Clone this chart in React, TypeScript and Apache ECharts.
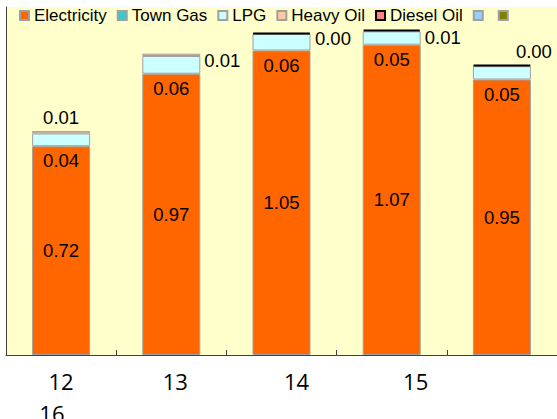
import React, { useEffect, useRef } from "react";
import * as echarts from "echarts";

const categories = ["12", "13", "14", "15", "16"];
const electricity = [0.72, 0.97, 1.05, 1.07, 0.95];
const townGas: (number | null)[] = [null, null, null, null, null];
const lpg = [0.044, 0.061, 0.057, 0.046, 0.046];
const heavyOil: (number | null)[] = [0.008, 0.008, null, null, null];
const dieselOil: (number | null)[] = [null, null, 0.004, 0.006, 0.004];
const extraA: (number | null)[] = [null, null, null, null, null];
const extraB: (number | null)[] = [null, null, null, null, null];

const LABEL_FONT = "Liberation Sans";
const fmt = (p: any) => (p.value == null ? "" : Number(p.value).toFixed(2));

const baseLabel = {
  show: true,
  fontFamily: LABEL_FONT,
  fontSize: 18.5,
  color: "#000",
  formatter: fmt,
};

// per-bar label placement for the small top segments
const heavyLabelPos: any[] = [
  { position: "top", offset: [0, 0] },
  { position: "right", offset: [0, 6] },
  null,
  null,
  null,
];
const dieselLabelPos: any[] = [
  null,
  null,
  { position: "right", offset: [0, 5] },
  { position: "right", offset: [0, 7] },
  { position: "top", offset: [32, 0] },
];

// x label nudges (rich padding) to mimic the wrapped axis text
const xLabelPad: number[][] = [
  [0, 0, 0, 0],
  [0, 0, 0, 8],
  [0, 0, 0, 30],
  [0, 0, 0, 48],
  [64, 900, 0, 0],
];

const border = { borderColor: "#A0A0A0", borderWidth: 1 };

function withLabels(values: (number | null)[], pos: any[]) {
  return values.map((v, i) =>
    pos[i] ? { value: v, label: { ...baseLabel, distance: 4, ...pos[i] } } : { value: v }
  );
}

export default function App() {
  const ref = useRef<HTMLDivElement>(null);
  useEffect(() => {
    if (!ref.current) return;
    const chart = echarts.init(ref.current, null, { renderer: "svg" });
    const rich: any = {};
    xLabelPad.forEach((p, i) => {
      rich["c" + i] = {
        fontFamily: "Open Sans",
        fontSize: 22,
        lineHeight: 24,
        color: "#000",
        padding: p,
      };
    });
    chart.setOption({
      animation: false,
      backgroundColor: "#ffffff",
      grid: {
        left: 6,
        right: 0,
        top: 7,
        bottom: 64,
        show: true,
        backgroundColor: "#FFFFCC",
        borderWidth: 0,
        containLabel: false,
        outerBoundsMode: "none",
      },
      legend: {
        left: 19,
        top: 7,
        padding: 0,
        itemWidth: 9,
        itemHeight: 9,
        itemGap: 10,
        icon: "rect",
        textStyle: { fontFamily: LABEL_FONT, fontSize: 17, color: "#000" },
        data: ["Electricity", "Town Gas", "LPG", "Heavy Oil", "Diesel Oil", "\u200b", "\u200b\u200b"],
      },
      xAxis: {
        type: "category",
        data: categories,
        boundaryGap: true,
        axisLine: { show: true, lineStyle: { color: "#404040", width: 1 } },
        axisTick: { show: true, inside: true, length: 5, lineStyle: { color: "#404040" } },
        axisLabel: {
          interval: 0,
          margin: 14,
          hideOverlap: false,
          formatter: (v: string, i: number) => `{c${i}|${v}}`,
          rich,
        },
      },
      yAxis: {
        type: "value",
        min: 0,
        max: 1.2,
        axisLine: { show: true, lineStyle: { color: "#404040", width: 1 } },
        axisTick: { show: false },
        axisLabel: { show: false },
        splitLine: { show: false },
      },
      series: [
        {
          name: "Electricity",
          type: "bar",
          stack: "total",
          barWidth: 58,
          data: electricity,
          itemStyle: { color: "#FF6600", ...border },
          label: { ...baseLabel, position: "inside" },
        },
        {
          name: "Town Gas",
          type: "bar",
          stack: "total",
          data: townGas,
          itemStyle: { color: "#33CCCC", ...border },
        },
        {
          name: "LPG",
          type: "bar",
          stack: "total",
          data: lpg,
          itemStyle: { color: "#CCFFFF", ...border },
          label: { ...baseLabel, position: "bottom", distance: 5 },
        },
        {
          name: "Heavy Oil",
          type: "bar",
          stack: "total",
          data: withLabels(heavyOil, heavyLabelPos),
          itemStyle: { color: "#FFCC99", ...border },
        },
        {
          name: "Diesel Oil",
          type: "bar",
          stack: "total",
          data: withLabels(dieselOil, dieselLabelPos),
          itemStyle: { color: "#FF8080", borderColor: "#000", borderWidth: 2 },
        },
        {
          name: "\u200b",
          type: "bar",
          stack: "total",
          data: extraA,
          itemStyle: { color: "#99CCFF", ...border },
        },
        {
          name: "\u200b\u200b",
          type: "bar",
          stack: "total",
          data: extraB,
          itemStyle: { color: "#808000", ...border },
        },
      ],
    });
    return () => chart.dispose();
  }, []);
  return (
    <div
      ref={ref}
      style={{ position: "fixed", left: 0, top: 0, width: 557, height: 419 }}
    />
  );
}
